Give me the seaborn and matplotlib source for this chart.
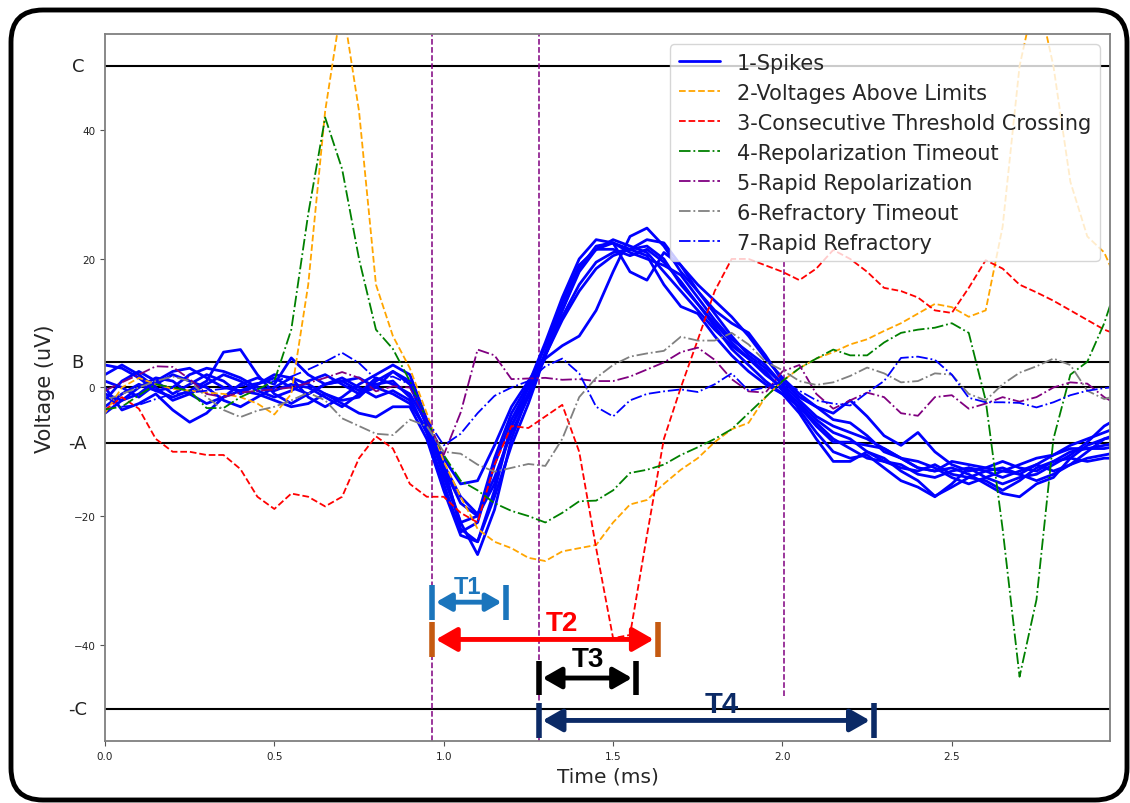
import numpy as np
import pandas as pd
import matplotlib
matplotlib.use("Agg")
import matplotlib.pyplot as plt
import seaborn as sns
from matplotlib.patches import FancyBboxPatch
from matplotlib.transforms import IdentityTransform

# ---------------------------------------------------------------- data
time_ms = [round(0.05 * i, 2) for i in range(61)]  # 0.00 ... 3.00 ms

spikes = [
    [-2, 1, 2.5, 1, -1, 0.5, 2, 1, -1, 0.5, 1.5, 0, -1, 0.5, 1, -0.5, 0.5, 1, -1.5, -7,
     -13, -21, -26, -19, -8, -1, 5, 12, 18, 21.5, 23, 22, 21, 18, 15, 12, 9, 6.5, 4.5, 2,
     0, -2.5, -5, -7, -8, -10, -11.5, -12.5, -13, -12, -13.5, -14, -13, -12.5, -13.5, -12, -10.5, -9, -8, -7, -6],
    [2, 3.5, 2, 0, -2, -1, 0.5, 2, 1, -0.5, -1.5, -0.5, 1, 2, 0.5, -1, 0, 2.5, 0.5, -6,
     -12, -22, -24, -16, -6, 0, 4.5, 6.5, 8, 12, 18, 23.5, 24.8, 22, 18, 15, 12, 10, 8.5, 5,
     1, -1.5, -3, -5, -5.5, -7.5, -10, -11, -12.5, -13, -12.5, -13.5, -15, -16.5, -17, -15, -14, -11, -9, -8, -7],
    [3.5, 3, 1.5, -0.5, 0, 2, 3, 2.5, 1.5, 0, -0.5, 0.5, 0, -1.5, -3, -1, 1.5, 0.5, -1, -5.5,
     -14, -21, -20, -11, -4, 0.5, 7, 14, 20, 23, 22.5, 18, 16.7, 21, 19, 15, 11.5, 8, 5, 3,
     0.5, -3.5, -7, -10, -11, -10.5, -12.5, -14.5, -15.5, -17, -15, -12.5, -13, -14, -13, -12, -13, -12, -11, -10.5, -10],
    [-4, -2, 0, 1.5, 1, -1, -2.5, -1.5, 0.5, 1.5, 0.5, 4.6, 2, 0.5, 1, 1.5, 0, -1, -2.5, -6.5,
     -12, -17, -19.7, -14, -7, -1.5, 5.5, 13, 19, 21.5, 22.5, 21.5, 22, 20, 16, 13, 10, 7, 4.5, 2.5,
     -0.5, -3, -5.5, -8, -9.5, -11, -11.5, -12, -13.5, -14, -13, -12.5, -14, -15, -14, -13.5, -12, -10.5, -8.5, -6, -4.5],
    [1, 0, -1.5, 0.5, 2, 1, 0, -2, -3, -1.5, 0, 1.5, 0.5, -1, -2, -1.5, 1, 2.5, 1, -6,
     -11, -15, -14.5, -9, -3, 1, 5, 11, 16, 19.5, 21, 21.5, 20.5, 16, 12.6, 11.5, 8, 5, 2.5, 0.5,
     -1, -3, -6, -8.5, -8.5, -9, -9.5, -11, -12.5, -13, -11.5, -12, -12.5, -13, -12, -11, -10.5, -9.5, -9.5, -9.5, -9],
    [-1, -2, -1, 1, 2.5, 3, 1.5, 0, -0.5, 0.5, 2, 1.5, -1.5, -3, -1.5, 0.5, 2, 3.5, 2, -5,
     -12.5, -18, -20, -15, -6, -1, 5, 10.5, 15, 18.5, 20.5, 21.5, 23, 22.5, 19, 16, 13.5, 11, 8, 4.5,
     1.5, -1, -3, -4, -2, -4.5, -7.5, -9, -7, -10, -12, -13, -12.5, -11.5, -12.5, -13, -11.5, -10, -9.5, -9, -8.5],
    [-3, -1, 0.5, -0.5, -1.5, -0.5, 1, 5.5, 5.9, 2, -1, -2.5, -1, 0.5, 1.5, 0, -1.5, -0.5, -2, -7,
     -15, -22.5, -21, -12, -5, 0, 6.5, 13.5, 19, 21.5, 21.5, 20.5, 21.5, 19.5, 16.5, 13, 9.5, 6, 3.5, 1,
     -1, -4, -8, -11.5, -11.5, -10, -11, -13, -14.5, -16.9, -15.5, -14, -14.5, -16, -14.5, -12.5, -11.5, -11, -11.5, -11, -11],
    [0, -3.5, -2.5, -1, -3.5, -5.4, -4, -1.5, -0.5, -1, -2, -3, -2.5, -1, -2.5, -4, -4.6, -3, -3, -8,
     -16, -23, -24, -17, -9, -2.5, 5, 12, 18.5, 22, 22.5, 21, 20, 19, 17.5, 14, 10.5, 7.5, 5.5, 3.5,
     0.5, -2, -4.5, -6, -7, -8, -9.5, -11, -11.5, -12.5, -14, -15, -14, -13, -13.5, -14.5, -13.5, -12, -10, -8, -7.5],
]

above_limits = [-4, 0, 1.5, 0.5, -0.2, -0.5, -0.8, -1, -1.5, -2.5, -4.2, -1, 16, 43, 60, 43, 16, 8, 3, -4,
                -11.5, -17, -22, -24, -25, -26.5, -27, -25.5, -25, -24.5, -21, -18.2, -17.5, -15, -12.8, -11, -8.5, -6.5, -5.5, -1.5,
                1, 3, 4.5, 5.5, 6.7, 7.5, 8.8, 10, 11.5, 13, 12.5, 11, 12, 25, 50, 62, 50, 32, 23.5, 21, 15]
threshold_crossing = [-3.5, -1.5, -3.3, -8, -10, -10, -10.5, -10.5, -12.7, -17, -18.9, -16.5, -17, -18.5, -17, -11, -7.6, -9.5, -15, -17,
                      -17, -19.5, -21, -12, -6, -6.3, -4.5, -2.7, -10, -25, -39, -38.5, -23, -8, 0, 7.4, 15, 20, 20, 19,
                      18, 16.7, 18.5, 21.4, 20, 18, 15.5, 15, 14, 12, 11.6, 15.5, 19.8, 18.5, 16, 14.8, 13.5, 12, 10.5, 9, 8]
repol_timeout = [-3.4, -3, -1.2, 0.5, 0, -0.5, -3.2, -3.2, -1.5, -0.3, 1, 9, 27, 42, 34, 20, 9, 6, 1, -5,
                 -10.5, -14.5, -16, -18, -19.2, -20, -21, -19.5, -17.7, -17.6, -16, -13.3, -12.8, -12, -10.5, -9.3, -8, -6.5, -4, -1.5,
                 1, 3, 4.5, 5.9, 5, 5, 7, 8.5, 9, 9.3, 10, 8.5, -2, -22, -45, -33, -8, 2, 4, 10, 18]
rapid_repol = [-0.5, 0.8, 2, 3.3, 3.2, 1.3, -1, -1.5, -0.8, -0.5, -0.3, 0, 0.7, 1.5, 2.4, 1.5, -0.6, 0.2, 0, -5,
               -10.5, -3.9, 5.9, 5, 1.3, 1.4, 1.5, 1.2, 1.3, 1, 1, 1.7, 2.8, 3.9, 5.5, 6.2, 4.3, 1.3, -0.6, -0.8,
               2.5, 3.5, -1, -3.3, -2, -0.8, -1.5, -4, -4.4, -1.5, -1.2, -3.3, -2.5, -1.5, -2.2, -1.5, 0, 0.8, 0.6, -1.5, -3]
refr_timeout = [-2, -1, 0, 1, 1.7, 1, -1.5, -3.5, -4.6, -3.6, -3, -2, -0.8, -2, -4.8, -6, -7.2, -7.4, -5, -6,
                -10, -10.3, -12, -13.1, -12.5, -11.9, -12.2, -8, -1.5, 1.5, 3.5, 4.8, 5.3, 5.7, 7.9, 7.3, 7.3, 8.5, 6.7, 4,
                2.7, 1, 0.4, 0.8, 1.8, 3.1, 2.2, 0.8, 1, 2.2, 2, -1, -2, 0.5, 2.3, 3.3, 4.5, 3.5, -0.5, -1.8, -1]
rapid_refr = [-1.4, -3, -2.7, -1.8, -1, -0.8, -0.5, -0.2, 0.2, 0.7, 1, 1.7, 2.8, 4, 5.4, 3.8, 1.3, 1.7, 0.5, -5,
              -9, -7.2, -4, -1.3, 0, 1, 3.3, 4.5, 2.2, -3, -4.5, -2, -1, -0.6, -0.3, -0.7, 0.5, 2.2, -0.5, 0,
              0.9, -0.5, -2, -2.5, -2.8, -0.8, 1, 4.6, 4.8, 4.3, 2, -1.6, -2.3, -2.3, -2.4, -3.1, -2.3, -1.2, -0.5, -0.1, 0.2]

other_series = [
    ("2-Voltages Above Limits", above_limits, "orange", "--"),
    ("3-Consecutive Threshold Crossing", threshold_crossing, "red", "--"),
    ("4-Repolarization Timeout", repol_timeout, "green", "-."),
    ("5-Rapid Repolarization", rapid_repol, "purple", "-."),
    ("6-Refractory Timeout", refr_timeout, "gray", "-."),
    ("7-Rapid Refractory", rapid_refr, "blue", "-."),
]

level_values = [50, 4, 0, -8.7, -50]
level_names = {50: "C", 4: "B", -8.7: "-A", -50: "-C"}
marker_times = [0.965, 1.28]
late_marker_time = 2.006

# interval annotations: label, start, end, y of arrow, bar colour, arrow colour,
# text x, text y, text size, arrow-head scale
intervals = [
    ("T1", 0.965, 1.183, -33.4, "#1b75bc", "#1b75bc", 1.07, -30.9, 17, 13),
    ("T2", 0.965, 1.632, -39.2, "#c55a11", "#ff0000", 1.35, -36.6, 20, 18),
    ("T3", 1.28, 1.568, -45.2, "black", "black", 1.425, -42.2, 20, 16),
    ("T4", 1.28, 2.27, -51.8, "#0b2a66", "#0b2a66", 1.82, -49.2, 21, 17),
]

# ---------------------------------------------------------------- figure
sns.set_style("ticks")
plt.rcParams["font.family"] = ["DejaVu Sans"]

fig = plt.figure(figsize=(11.3, 8.04), dpi=100)
ax = fig.add_axes([0.0929, 0.0771, 0.8894, 0.8794])

spike_df = pd.DataFrame(
    [(k, t, v) for k, trace in enumerate(spikes) for t, v in zip(time_ms, trace)],
    columns=["trace", "time", "voltage"],
)
for k, grp in spike_df.groupby("trace"):
    sns.lineplot(data=grp, x="time", y="voltage", ax=ax, color="blue", lw=2.0,
                 label="1-Spikes" if k == 0 else None, sort=False, legend=False)

for name, values, color, ls in other_series:
    sns.lineplot(x=time_ms, y=values, ax=ax, color=color, linestyle=ls, lw=1.3,
                 label=name, sort=False, legend=False)

for lv in level_values:
    ax.axhline(lv, color="black", lw=1.5, zorder=1)

for mt in marker_times:
    ax.axvline(mt, color="purple", ls="--", lw=1.1, zorder=1)
ax.vlines(late_marker_time, -48, 19.5, color="purple", ls="--", lw=1.1, zorder=1)

ax.set_xlim(0, 2.967)
ax.set_ylim(-55, 55)
ax.set_yticks([-40, -20, 0, 20, 40])
ax.set_xticks([0.0, 0.5, 1.0, 1.5, 2.0, 2.5])
ax.tick_params(labelsize=7.5, colors="#555555", labelcolor="#222222", length=3.5)
for sp in ax.spines.values():
    sp.set_color("#7f7f7f")
    sp.set_linewidth(1.3)

ax.set_xlabel("Time (ms)", fontsize=14.5, labelpad=4)
ax.set_ylabel("Voltage (uV)", fontsize=15)
ax.yaxis.set_label_coords(-0.05, 0.5)

for lv, nm in level_names.items():
    ax.text(-0.027, lv, nm, transform=ax.get_yaxis_transform(), ha="center", va="center",
            fontsize=13, color="#222222")

# interval markers
for lab, x0, x1, y, bar_c, arr_c, tx, ty, fs, ms in intervals:
    half = 2.7
    ax.plot([x0, x0], [y - half, y + half], color=bar_c, lw=4, solid_capstyle="butt", zorder=6)
    ax.plot([x1, x1], [y - half, y + half], color=bar_c, lw=4, solid_capstyle="butt", zorder=6)
    ax.annotate("", xy=(x1 - 0.012, y), xytext=(x0 + 0.012, y),
                arrowprops=dict(arrowstyle="<|-|>,head_length=0.7,head_width=0.4",
                                color=arr_c, lw=3.5, mutation_scale=ms,
                                shrinkA=0, shrinkB=0), zorder=6)
    ax.text(tx, ty, lab, color=arr_c, fontsize=fs,
            fontweight="bold", family="Liberation Sans", ha="center", va="center", zorder=7)

leg = ax.legend(loc="upper right", fontsize=15, handlelength=2.0, framealpha=0.8,
                edgecolor="#cccccc", labelspacing=0.48)

# rounded outer frame
frame = FancyBboxPatch((11, 3), 1116, 790, boxstyle="round,pad=0,rounding_size=32",
                       transform=IdentityTransform(), fill=False, edgecolor="black", lw=3.5)
fig.patches.append(frame)

fig.savefig("out.png", dpi=100)
